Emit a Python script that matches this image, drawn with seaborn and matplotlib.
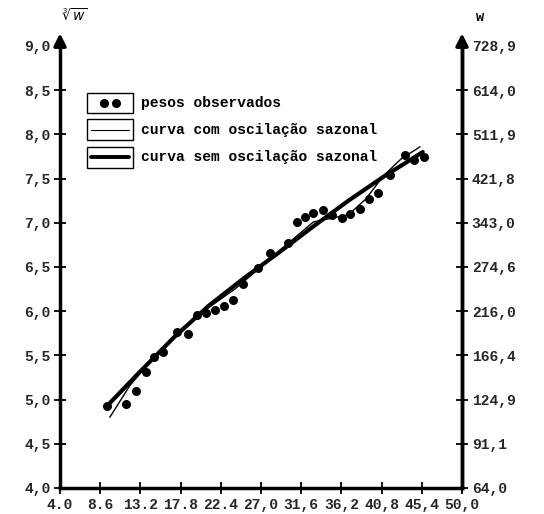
import numpy as np
import pandas as pd
import matplotlib
matplotlib.use("Agg")
import matplotlib.pyplot as plt
import seaborn as sns
from matplotlib.patches import Rectangle
from matplotlib.lines import Line2D

# ---- data ----
obs_x = [9.38, 11.55, 12.70, 13.84, 14.76, 15.79, 17.39, 18.65, 19.68, 20.71,
         21.74, 22.77, 23.80, 24.94, 26.66, 28.03, 30.09, 31.12, 32.04, 32.95,
         34.10, 35.13, 36.27, 37.19, 38.33, 39.36, 40.39, 41.76, 43.48, 44.51, 45.65]
obs_y = [4.93, 4.95, 5.10, 5.31, 5.48, 5.54, 5.76, 5.74, 5.96, 5.98,
         6.01, 6.06, 6.13, 6.31, 6.49, 6.66, 6.77, 7.01, 7.07, 7.11,
         7.14, 7.09, 7.05, 7.10, 7.16, 7.27, 7.34, 7.54, 7.77, 7.71, 7.74]

sem_x = [9.4, 13, 17, 21, 25, 29, 33, 37, 41, 45.5]
sem_y = [4.93, 5.30, 5.70, 6.06, 6.37, 6.66, 6.96, 7.25, 7.52, 7.80]

com_x = [9.7, 12, 15, 18, 21, 24, 27, 30, 33, 35, 37, 39, 41, 43, 45.2]
com_y = [4.80, 5.16, 5.51, 5.81, 6.04, 6.25, 6.50, 6.76, 7.01, 7.05, 7.09, 7.27, 7.53, 7.72, 7.86]

x_ticks = [4.0, 8.6, 13.2, 17.8, 22.4, 27.0, 31.6, 36.2, 40.8, 45.4, 50.0]
x_labels = ["4.0", "8.6", "13.2", "17.8", "22.4", "27,0", "31,6", "36,2", "40,8", "45,4", "50,0"]
y_ticks = [4.0, 4.5, 5.0, 5.5, 6.0, 6.5, 7.0, 7.5, 8.0, 8.5, 9.0]
y_labels = ["4,0", "4,5", "5,0", "5,5", "6,0", "6,5", "7,0", "7,5", "8,0", "8,5", "9,0"]
w_labels = ["64,0", "91,1", "124,9", "166,4", "216,0", "274,6", "343,0",
            "421,8", "511,9", "614,0", "728,9"]

legend_labels = ["pesos observados", "curva com oscilação sazonal", "curva sem oscilação sazonal"]

# ---- plot ----
sns.set_theme(style="white")
FONT = "Liberation Mono"
plt.rcParams["font.family"] = [FONT, "DejaVu Sans"]

W, H = 544, 514
fig = plt.figure(figsize=(W / 100, H / 100), dpi=100)
L, R, T, B = 60, 462, 46, 488
ax = fig.add_axes([L / W, 1 - B / H, (R - L) / W, (B - T) / H])

obs = pd.DataFrame({"x": obs_x, "y": obs_y})
sem = pd.DataFrame({"x": sem_x, "y": sem_y})
com = pd.DataFrame({"x": com_x, "y": com_y})

sns.lineplot(data=com, x="x", y="y", ax=ax, color="black", lw=1.0, sort=True)
sns.lineplot(data=sem, x="x", y="y", ax=ax, color="black", lw=3.0, sort=True)
sns.scatterplot(data=obs, x="x", y="y", ax=ax, color="black", s=42, edgecolor="black", linewidth=0)

ax.set_xlim(4.0, 50.0)
ax.set_ylim(4.0, 9.0)
ax.set_xlabel("")
ax.set_ylabel("")
ax.set_xticks(x_ticks)
ax.set_xticklabels(x_labels)
ax.set_yticks(y_ticks)
ax.set_yticklabels(y_labels)

for side in ["left", "bottom", "right"]:
    ax.spines[side].set_visible(True)
    ax.spines[side].set_color("black")
    ax.spines[side].set_linewidth(2.5)
ax.spines["top"].set_visible(False)

ax.tick_params(axis="both", direction="inout", length=8, width=1.3, color="black",
               left=True, bottom=True, pad=3)
for lab in ax.get_xticklabels() + ax.get_yticklabels():
    lab.set_fontfamily(FONT)
    lab.set_fontweight("bold")
    lab.set_fontsize(10.5)

ax2 = ax.twinx()
ax2.set_ylim(4.0, 9.0)
ax2.set_yticks(y_ticks)
ax2.set_yticklabels(w_labels)
for side in ["left", "bottom", "top"]:
    ax2.spines[side].set_visible(False)
ax2.spines["right"].set_color("black")
ax2.spines["right"].set_linewidth(2.5)
ax2.tick_params(axis="y", direction="inout", length=8, width=1.3, color="black", right=True, pad=3)
for lab in ax2.get_yticklabels():
    lab.set_fontfamily(FONT)
    lab.set_fontweight("bold")
    lab.set_fontsize(10.5)
ax2.grid(False)
ax.grid(False)

# arrows on top of vertical axes
for xf in (0.0, 1.0):
    ax.annotate("", xy=(xf, 1.035), xytext=(xf, 0.99), xycoords="axes fraction",
                arrowprops=dict(arrowstyle="-|>,head_length=0.6,head_width=0.3",
                                color="black", lw=2.5), annotation_clip=False)

# axis titles
fig.text(62 / W, 1 - 16 / H, r"$\sqrt[3]{w}$", fontsize=10, fontweight="bold",
         ha="left", va="center", color="black")
fig.text(480 / W, 1 - 17 / H, "w", fontsize=10, fontweight="bold", fontfamily=FONT,
         ha="center", va="center", color="black")

# legend (custom boxed handles)
def fx(px):
    return px / W

def fy(py):
    return 1 - py / H

boxes = [(87, 93, 133, 113), (87, 119, 133, 140), (87, 147, 133, 168)]
for (x0, y0, x1, y1) in boxes:
    fig.patches.append(Rectangle((fx(x0), fy(y1)), fx(x1) - fx(x0), fy(y0) - fy(y1),
                                 transform=fig.transFigure, fill=False,
                                 edgecolor="black", lw=1.0))
fig.lines.append(Line2D([fx(104), fx(116)], [fy(103), fy(103)], transform=fig.transFigure,
                        ls="none", marker="o", ms=5.5, color="black"))
fig.lines.append(Line2D([fx(91), fx(129)], [fy(130), fy(130)], transform=fig.transFigure,
                        lw=0.8, color="black"))
fig.lines.append(Line2D([fx(91), fx(129)], [fy(157), fy(157)], transform=fig.transFigure,
                        lw=2.8, color="black"))
for lbl, py in zip(legend_labels, [103, 130, 157]):
    fig.text(fx(141), fy(py), lbl, fontfamily=FONT, fontweight="bold", fontsize=10.5,
             ha="left", va="center", color="black")

fig.savefig("out.png", dpi=100, facecolor="white")
